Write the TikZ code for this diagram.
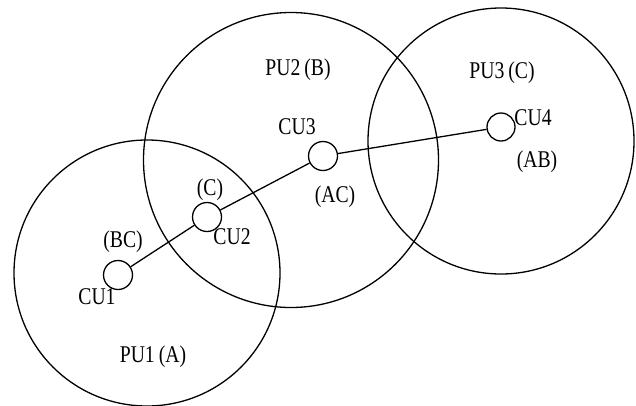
\documentclass[tikz,border=0pt]{standalone}
\usepackage{fontspec}
\setmainfont[FakeStretch=0.82]{Liberation Serif}
\newcommand{\pl}[1]{\hspace{4pt}(#1)}
\begin{document}
\begin{tikzpicture}[x=1pt,y=-1pt,
  cell/.style={draw, circle, line width=1.3pt, inner sep=0pt},
  user/.style={draw, circle, line width=1.3pt, inner sep=0pt, minimum size=29pt, fill=white},
  lbl/.style={inner sep=0pt, font=\fontsize{24}{27}\selectfont},
  link/.style={line width=1.3pt}]
\useasboundingbox (0,0) rectangle (636,405);
% primary user coverage areas
\node[cell, minimum size=266pt] (pu1) at (147,273) {};
\node[cell, minimum size=295pt] (pu2) at (291,160) {};
\node[cell, minimum size=266pt] (pu3) at (501,141) {};
% cognitive users
\node[user] (cu1) at (118,275) {};
\node[user] (cu2) at (207,217) {};
\node[user] (cu3) at (323,156) {};
\node[user, minimum size=28pt] (cu4) at (501,127) {};
% links between cognitive users
\draw[link] (cu1) -- (cu2);
\draw[link] (cu2) -- (cu3);
\draw[link] (cu3) -- (cu4);
% labels
\node[lbl] (lpu1) at (153,357) {PU1\pl{A}};
\node[lbl] (lpu2) at (298,70) {PU2\pl{B}};
\node[lbl] (lpu3) at (502,73) {PU3\pl{C}};
\node[lbl] (lcu1) at (97,297) {CU1};
\node[lbl] (lcu2) at (232,237) {CU2};
\node[lbl] (lcu3) at (297,127) {CU3};
\node[lbl] (lcu4) at (533,118) {CU4};
\node[lbl] (lbc) at (123,242) {(BC)};
\node[lbl] (lc) at (210,190) {(C)};
\node[lbl] (lac) at (335,197) {(AC)};
\node[lbl] (lab) at (537,162) {(AB)};
\end{tikzpicture}
\end{document}
